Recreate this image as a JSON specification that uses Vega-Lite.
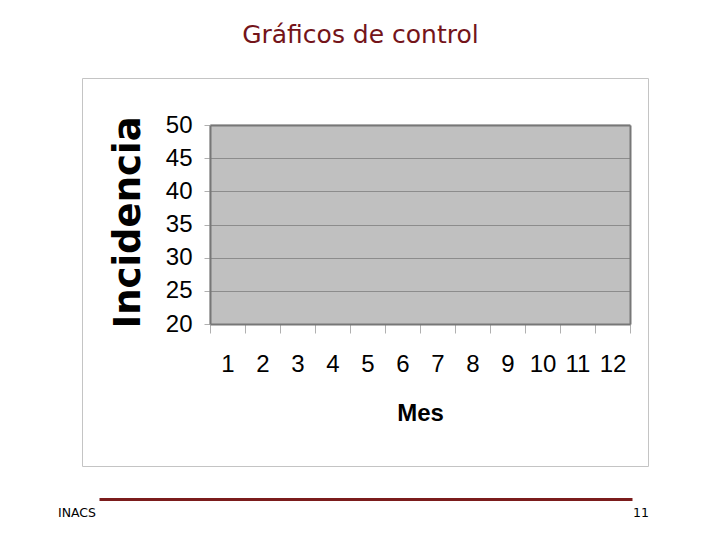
{
  "$schema": "https://vega.github.io/schema/vega-lite/v6.json",
  "padding": {"left": 57, "top": 22, "right": 0, "bottom": 0},
  "background": "white",
  "title": {"text": "Gráficos de control", "font": "DejaVu Sans", "fontSize": 25, "fontWeight": "normal", "color": "#74141a", "anchor": "middle", "offset": 30, "dx": 7},
  "config": {"view": {"stroke": null}},
  "datasets": {
    "meses": [
      {"mes": 1, "incidencia": null},
      {"mes": 2, "incidencia": null},
      {"mes": 3, "incidencia": null},
      {"mes": 4, "incidencia": null},
      {"mes": 5, "incidencia": null},
      {"mes": 6, "incidencia": null},
      {"mes": 7, "incidencia": null},
      {"mes": 8, "incidencia": null},
      {"mes": 9, "incidencia": null},
      {"mes": 10, "incidencia": null},
      {"mes": 11, "incidencia": null},
      {"mes": 12, "incidencia": null}
    ]
  },
  "spacing": 32,
  "vconcat": [
    {
      "width": 566,
      "height": 388,
      "view": {"stroke": "#c4c4c4", "fill": "white"},
      "data": {"name": "meses"},
      "encoding": {
        "x": {
          "field": "mes",
          "type": "ordinal",
          "scale": {"type": "band", "domain": [1, 2, 3, 4, 5, 6, 7, 8, 9, 10, 11, 12], "range": [128, 548], "paddingInner": 0, "paddingOuter": 0},
          "axis": {
            "orient": "bottom", "offset": -142, "zindex": 1, "title": "Mes", "tickBand": "extent",
            "domainColor": "#777777", "domainWidth": 2, "tickColor": "#b0b0b0", "tickSize": 9, "tickWidth": 1,
            "labelAngle": 0, "labelFont": "Liberation Sans", "labelFontSize": 24, "labelColor": "#000000", "labelPadding": 19,
            "titleFont": "Liberation Sans", "titleFontSize": 24, "titleFontWeight": "bold", "titleColor": "#000000",
            "titleX": 338, "titleY": 96, "titleBaseline": "alphabetic", "titleAlign": "center",
            "grid": false
          }
        }
      },
      "layer": [
        {
          "mark": {"type": "rect", "fill": "#c0c0c0", "stroke": "#c0c0c0", "strokeWidth": 1},
          "encoding": {
            "y": {
              "datum": 20,
              "type": "quantitative",
              "scale": {"domain": [20, 50], "range": [246, 47], "nice": false, "zero": false},
              "axis": {
                "orient": "left", "offset": -128, "zindex": 1, "title": "Incidencia", "values": [20, 25, 30, 35, 40, 45, 50],
                "grid": true,
                "gridColor": {"condition": {"test": "datum.value === 50", "value": "#777777"}, "value": "#8c8c8c"},
                "gridWidth": {"condition": {"test": "datum.value === 50", "value": 2}, "value": 1},
                "domainColor": "#777777", "domainWidth": 2, "tickColor": "#b0b0b0", "tickSize": 6,
                "labelFont": "Liberation Sans", "labelFontSize": 24, "labelColor": "#000000", "labelPadding": 12,
                "titleFont": "DejaVu Sans", "titleFontSize": 37, "titleFontWeight": "bold", "titleColor": "#000000",
                "titleAngle": 270, "titleX": -71, "titleY": 144, "titleBaseline": "alphabetic", "titleAlign": "center"
              }
            },
            "y2": {"datum": 50}
          }
        },
        {
          "mark": {"type": "line", "color": "#000080", "strokeWidth": 2},
          "encoding": {
            "y": {
              "field": "incidencia",
              "type": "quantitative",
              "scale": {"domain": [20, 50], "range": [246, 47], "nice": false, "zero": false},
              "axis": {"orient": "right", "offset": -18, "zindex": 1, "title": null, "labels": false, "ticks": false, "grid": false, "domainColor": "#777777", "domainWidth": 2}
            }
          }
        }
      ],
      "resolve": {"axis": {"y": "independent"}}
    },
    {
      "width": 566,
      "height": 28,
      "view": {"stroke": null},
      "encoding": {
        "x": {
          "field": "label",
          "type": "nominal",
          "scale": {"type": "point", "domain": ["INACS", "11"], "range": [17, 550], "padding": 0},
          "axis": {"orient": "top", "title": null, "labels": false, "ticks": false, "grid": false, "domainColor": "#7b1c1c", "domainWidth": 3}
        }
      },
      "layer": [
        {
          "data": {"values": [{"label": "INACS"}]},
          "mark": {"type": "text", "align": "right", "dx": -3, "font": "DejaVu Sans", "fontSize": 12.5, "color": "#000000"},
          "encoding": {"text": {"field": "label"}}
        },
        {
          "data": {"values": [{"label": "11"}]},
          "mark": {"type": "text", "align": "left", "dx": 1, "font": "DejaVu Sans", "fontSize": 12.5, "color": "#000000"},
          "encoding": {"text": {"field": "label"}}
        }
      ]
    }
  ]
}
